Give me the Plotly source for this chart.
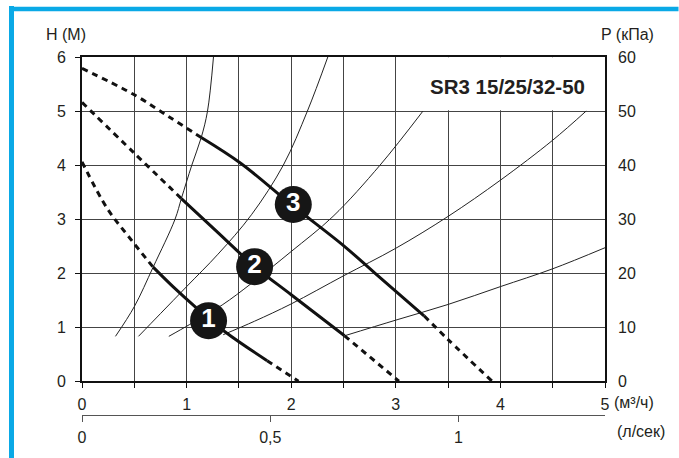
import plotly.graph_objects as go

# ---------------- data (Q in m3/h, H in m) ----------------
# Pump curve 1
p1_dash_start_q = [0.0, 0.24, 0.44, 0.68]
p1_dash_start_h = [4.06, 3.20, 2.69, 2.11]
p1_solid_q = [0.68, 0.88, 1.08, 1.37, 1.77]
p1_solid_h = [2.11, 1.73, 1.38, 0.91, 0.38]
p1_dash_end_q = [1.77, 2.07]
p1_dash_end_h = [0.38, 0.0]

# Pump curve 2
p2_dash_start_q = [0.0, 0.5, 0.95]
p2_dash_start_h = [5.16, 4.22, 3.38]
p2_solid_q = [0.95, 1.3, 1.64, 2.0, 2.51]
p2_solid_h = [3.38, 2.75, 2.14, 1.60, 0.84]
p2_dash_end_q = [2.51, 3.03]
p2_dash_end_h = [0.84, 0.0]

# Pump curve 3
p3_dash_start_q = [0.0, 0.5, 0.85, 1.14]
p3_dash_start_h = [5.79, 5.30, 4.87, 4.51]
p3_solid_q = [1.14, 1.52, 2.0, 2.5, 2.8, 3.27]
p3_solid_h = [4.51, 4.03, 3.27, 2.51, 2.0, 1.21]
p3_dash_end_q = [3.27, 3.5, 3.92]
p3_dash_end_h = [1.21, 0.77, 0.0]

# System (thin) curves
sysA_q = [0.32, 0.5, 0.68, 0.89, 0.95, 1.05, 1.14, 1.2, 1.257]
sysA_h = [0.83, 1.38, 2.11, 3.0, 3.38, 4.0, 4.51, 5.0, 6.0]
sysB_q = [0.54, 0.75, 1.0, 1.3, 1.62, 1.925, 2.155, 2.35]
sysB_h = [0.83, 1.25, 1.75, 2.35, 3.08, 4.0, 5.0, 6.0]
sysC_q = [0.83, 1.03, 1.34, 1.62, 2.0, 2.4, 2.85, 3.26]
sysC_h = [0.83, 1.05, 1.41, 1.81, 2.4, 3.05, 4.0, 5.0]
sysD_q = [1.35, 1.65, 2.0, 2.5, 3.0, 3.5, 4.0, 4.5, 4.82]
sysD_h = [0.86, 1.11, 1.43, 1.95, 2.46, 3.05, 3.72, 4.46, 5.0]
sysE_q = [2.51, 3.0, 3.5, 4.0, 4.5, 5.0]
sysE_h = [0.84, 1.13, 1.42, 1.75, 2.08, 2.47]

# Curve number badges
badge_q = [1.21, 1.65, 2.02]
badge_h = [1.12, 2.12, 3.27]
badge_text = ["1", "2", "3"]

# Axes
q_ticks = [0, 0.5, 1, 1.5, 2, 2.5, 3, 3.5, 4, 4.5, 5]
q_ticktext = ["0", "", "1", "", "2", "", "3", "", "4", "", "5"]
h_ticks = [0, 1, 2, 3, 4, 5, 6]
p_ticks = [0, 10, 20, 30, 40, 50, 60]
ls_ticks = [0, 0.5, 1]
ls_ticktext = ["0", "0,5", "1"]
M3H_PER_LS = 3.6

title_text = "SR3 15/25/32-50"

# ---------------- figure ----------------
W, H = 679, 458
ML, MR, MT, MB = 82, 74, 57, 38
PW = W - ML - MR
PH = H - MT - MB
PLOT_BOTTOM_PX = 385.7


def px_x(px):
    return (px - ML) / PW


def px_y(py):
    return (H - MB - py) / PH


FONT = "Liberation Sans, Arial, sans-serif"
TXT = "#231f20"

fig = go.Figure()

dash_style = dict(color="#111", width=3, dash="6px,5px")
solid_style = dict(color="#111", width=3)
thin_style = dict(color="#222", width=1)

for q, h in [(sysA_q, sysA_h), (sysB_q, sysB_h), (sysC_q, sysC_h),
             (sysD_q, sysD_h), (sysE_q, sysE_h)]:
    fig.add_trace(go.Scatter(x=q, y=h, mode="lines", line=thin_style,
                             line_shape="spline", hoverinfo="skip", showlegend=False))

for dq, dh, sq, sh, eq, eh in [
    (p1_dash_start_q, p1_dash_start_h, p1_solid_q, p1_solid_h, p1_dash_end_q, p1_dash_end_h),
    (p2_dash_start_q, p2_dash_start_h, p2_solid_q, p2_solid_h, p2_dash_end_q, p2_dash_end_h),
    (p3_dash_start_q, p3_dash_start_h, p3_solid_q, p3_solid_h, p3_dash_end_q, p3_dash_end_h),
]:
    fig.add_trace(go.Scatter(x=dq, y=dh, mode="lines", line=dash_style, line_shape="spline",
                             hoverinfo="skip", showlegend=False))
    fig.add_trace(go.Scatter(x=sq, y=sh, mode="lines", line=solid_style, line_shape="spline",
                             hoverinfo="skip", showlegend=False))
    fig.add_trace(go.Scatter(x=eq, y=eh, mode="lines", line=dash_style, line_shape="spline",
                             hoverinfo="skip", showlegend=False))

fig.add_trace(go.Scatter(
    x=badge_q, y=badge_h, mode="markers+text",
    marker=dict(size=37, color="#161616", line=dict(width=0)),
    text=["<b>%s</b>" % t for t in badge_text], textposition="middle center",
    textfont=dict(family="Liberation Sans Narrow, Liberation Sans, Arial, sans-serif",
                  size=26, color="white"),
    hoverinfo="skip", showlegend=False))

# invisible helper traces so the secondary axes render
fig.add_trace(go.Scatter(x=[0], y=[0], xaxis="x", yaxis="y2", mode="markers",
                         marker=dict(opacity=0), hoverinfo="skip", showlegend=False))
fig.add_trace(go.Scatter(x=[0], y=[0], xaxis="x2", yaxis="y", mode="markers",
                         marker=dict(opacity=0), hoverinfo="skip", showlegend=False))

grid_col = "#444"
fig.update_layout(
    width=W, height=H,
    margin=dict(l=ML, r=MR, t=MT, b=MB),
    paper_bgcolor="white", plot_bgcolor="white",
    font=dict(family=FONT, size=16, color=TXT),
    xaxis=dict(range=[0, 5], tickvals=q_ticks, ticktext=q_ticktext,
               ticks="outside", ticklen=5, tickcolor="#111", tickwidth=1,
               showgrid=True, gridcolor=grid_col, gridwidth=1.2,
               showline=True, linecolor="#111", linewidth=1.6, mirror=True,
               zeroline=False, anchor="y", ticklabelstandoff=3,
               tickfont=dict(size=16, color=TXT)),
    yaxis=dict(range=[0, 6], tickvals=h_ticks, domain=[px_y(PLOT_BOTTOM_PX), 1],
               ticks="outside", ticklen=5, tickcolor="#111", tickwidth=1,
               showgrid=True, gridcolor=grid_col, gridwidth=1.2,
               showline=True, linecolor="#111", linewidth=1.8, mirror=True,
               zeroline=False, anchor="x", ticklabelstandoff=6,
               tickfont=dict(size=16, color=TXT)),
    yaxis2=dict(range=[0, 60], tickvals=p_ticks, overlaying="y", side="right",
                anchor="x", showgrid=False, showline=False, zeroline=False,
                ticks="", ticklabelstandoff=12, tickfont=dict(size=16, color=TXT)),
    xaxis2=dict(range=[0, 5 / M3H_PER_LS], tickvals=ls_ticks, ticktext=ls_ticktext,
                overlaying="x", anchor="free", position=0, side="bottom",
                ticks="outside", ticklen=6, tickcolor="#555", tickwidth=1,
                showgrid=False, zeroline=False, showline=True,
                linecolor="#555", linewidth=1.2, ticklabelstandoff=2,
                tickfont=dict(size=16, color=TXT)),
)

# white label box (covers gridlines in the top-right cell block)
fig.add_shape(type="rect", xref="x", yref="y", x0=3.015, x1=4.995, y0=5.015, y1=5.995,
              fillcolor="white", line=dict(width=0), layer="between")

# blue frame on top and left of the picture
BLUE = "#0aa9e6"
fig.add_shape(type="rect", xref="paper", yref="paper",
              x0=px_x(9), x1=px_x(13.5), y0=px_y(457.5), y1=px_y(6),
              fillcolor=BLUE, line=dict(width=0), layer="above")
fig.add_shape(type="rect", xref="paper", yref="paper",
              x0=px_x(9), x1=px_x(678.5), y0=px_y(10.5), y1=px_y(6),
              fillcolor=BLUE, line=dict(width=0), layer="above")

anns = [
    dict(text="H (M)", x=px_x(66), y=px_y(34)),
    dict(text="P (кПа)", x=px_x(627), y=px_y(34)),
    dict(text="(м³/ч)", x=px_x(634), y=px_y(407)),
    dict(text="(л/сек)", x=px_x(641), y=px_y(437)),
]
for a in anns:
    fig.add_annotation(text=a["text"], x=a["x"], y=a["y"], xref="paper", yref="paper",
                       xanchor="center", yanchor="middle", showarrow=False,
                       font=dict(family=FONT, size=16, color=TXT))

fig.add_annotation(text="<b>%s</b>" % title_text, x=4.07, y=5.45, xref="x", yref="y",
                   xanchor="center", yanchor="middle", showarrow=False,
                   font=dict(family=FONT, size=20.5, color=TXT))

# page setup: no body margin; make sure the left frame stroke stays on top
post = (
    "document.body.style.margin='0';document.body.style.padding='0';"
    "var d=document.createElement('div');"
    "d.style.cssText='position:absolute;left:9px;top:6px;width:4.5px;height:452px;"
    "background:%s;z-index:1000;pointer-events:none';"
    "document.body.appendChild(d);" % BLUE
)
fig.write_html("out.html", config={"displayModeBar": False}, post_script=post)
